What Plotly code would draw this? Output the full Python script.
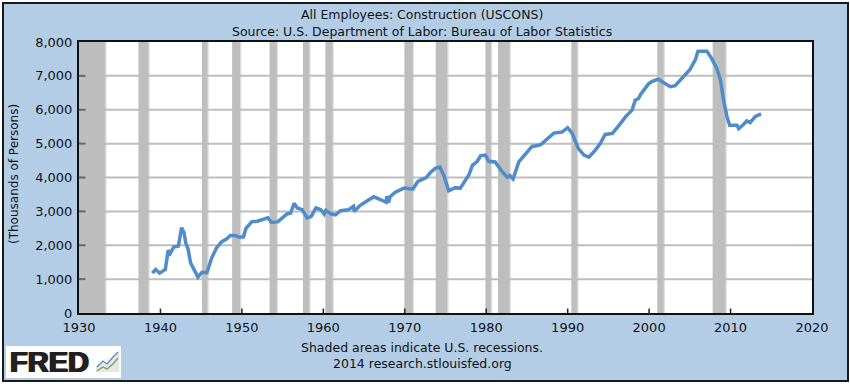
import plotly.graph_objects as go

years = [1939.0,1939.4,1939.9,1940.6,1940.95,1941.2,1941.65,1942.2,1942.6,1942.9,1943.1,1943.4,1943.7,1944.1,1944.6,1945.1,1945.7,1946.3,1946.9,1947.5,1948.1,1948.6,1949.1,1949.7,1950.2,1950.5,1951.2,1951.9,1952.6,1953.2,1953.6,1954.4,1955.5,1956.0,1956.4,1956.8,1957.4,1958.0,1958.5,1959.1,1959.7,1960.1,1960.3,1960.9,1961.5,1962.1,1963.1,1963.7,1963.8,1964.5,1965.3,1966.2,1967.0,1967.7,1967.8,1968.0,1968.2,1968.8,1969.5,1970.0,1971.0,1971.6,1972.0,1972.6,1973.2,1973.8,1974.3,1974.8,1975.4,1976.2,1976.8,1977.5,1977.9,1978.3,1978.9,1979.3,1979.9,1980.3,1981.1,1981.95,1982.6,1982.9,1983.3,1984.0,1984.8,1985.6,1986.7,1987.5,1988.3,1989.3,1990.0,1990.55,1991.3,1992.0,1992.6,1993.4,1994.0,1994.6,1995.5,1996.3,1997.1,1997.9,1998.3,1998.7,1998.95,1999.95,2000.4,2001.1,2002.0,2002.6,2003.2,2004.0,2005.0,2005.7,2006.0,2006.7,2007.1,2007.7,2008.3,2008.75,2009.2,2009.6,2009.9,2010.8,2011.0,2011.6,2012.0,2012.4,2013.05,2013.75]
employees = [1177,1285,1177,1285,1850,1760,1950,1975,2520,2370,2070,1880,1480,1285,1060,1200,1190,1630,1930,2100,2180,2290,2290,2240,2250,2500,2690,2710,2760,2810,2680,2690,2920,2950,3240,3100,3050,2810,2850,3100,3050,2920,3030,2930,2900,3020,3050,3150,3000,3170,3300,3430,3350,3270,3450,3250,3430,3560,3640,3690,3660,3880,3930,3990,4160,4280,4310,4060,3610,3700,3680,3960,4090,4360,4480,4640,4660,4480,4460,4170,4010,4060,3960,4460,4700,4910,4970,5140,5310,5340,5470,5300,4860,4660,4600,4810,5000,5270,5300,5540,5790,5990,6280,6330,6450,6770,6840,6900,6760,6680,6710,6910,7180,7490,7730,7730,7730,7500,7230,6890,6200,5760,5540,5540,5440,5570,5670,5620,5800,5880]

recession_start = [1930.0,1937.3,1945.1,1948.8,1953.4,1957.5,1960.25,1969.95,1973.8,1979.9,1981.45,1990.45,2001.0,2007.8]
recession_end = [1933.25,1938.55,1945.8,1949.8,1954.3,1958.3,1961.15,1971.0,1975.25,1980.6,1982.9,1991.2,2001.8,2009.4]

x_ticks = list(range(1930, 2021, 10))
y_ticks = list(range(0, 8001, 1000))
y_tick_labels = ["0","1,000","2,000","3,000","4,000","5,000","6,000","7,000","8,000"]

title_lines = ["All Employees: Construction (USCONS)", "Source: U.S. Department of Labor: Bureau of Labor Statistics"]
footer_lines = ["Shaded areas indicate U.S. recessions.", "2014 research.stlouisfed.org"]

W, H = 850, 384
L, R, T, B = 79, 812, 42, 313
BG = "#B3CDE6"
FONT = "DejaVu Sans"

def px(x):
    return (x - L) / (R - L)

def py(y):
    return (B - y) / (B - T)

def path(points, close=False):
    return "M " + " L ".join(f"{px(a):.4f},{py(b):.4f}" for a, b in points) + (" Z" if close else "")

shapes = [
    dict(type="rect", xref="paper", yref="paper", x0=px(0.5), x1=px(849.5), y0=py(0.5), y1=py(383.5),
         line=dict(color="white", width=3), fillcolor="rgba(0,0,0,0)", layer="below"),
    dict(type="rect", xref="paper", yref="paper", x0=px(3), x1=px(848), y0=py(3), y1=py(381),
         line=dict(color="#1a1a1a", width=2), fillcolor="rgba(0,0,0,0)", layer="below"),
    dict(type="rect", xref="paper", yref="paper", x0=px(6), x1=px(121), y0=py(346), y1=py(378),
         line=dict(width=0), fillcolor="white", layer="below"),
    dict(type="path", xref="paper", yref="paper",
         path=path([(96,372),(96,366),(103,361),(107,364),(113,356),(119,351),(119,372)], close=True),
         line=dict(width=0), fillcolor="#E4E6E8"),
    dict(type="path", xref="paper", yref="paper",
         path=path([(97,367),(103,361),(107,364),(113,357),(118,352)]),
         line=dict(color="#5B87AE", width=1.2)),
    dict(type="path", xref="paper", yref="paper",
         path=path([(97,371),(103,367),(107,369),(113,364),(118,358)]),
         line=dict(color="#6FA04A", width=1.2)),
]
for s, e in zip(recession_start, recession_end):
    shapes.append(dict(type="rect", xref="x", yref="y", x0=e, x1=e + 0.15, y0=0, y1=8000,
                       line=dict(width=0), fillcolor="#E2E2E2", layer="below"))
    shapes.append(dict(type="rect", xref="x", yref="y", x0=s, x1=e, y0=0, y1=8000,
                       line=dict(width=0), fillcolor="#BEBEBE", layer="below"))

def label(text, x, y, size=12.5, **kw):
    font = dict(family=kw.pop("family", FONT), size=size, color=kw.pop("color", "#111"))
    font.update(kw.pop("font_extra", {}))
    return dict(text=text, xref="paper", yref="paper", x=px(x), y=py(y), showarrow=False,
                xanchor=kw.pop("xanchor", "center"), yanchor="middle", font=font, **kw)

annotations = [
    label(title_lines[0], 422, 14),
    label(title_lines[1], 422, 31),
    label(footer_lines[0], 422, 347),
    label(footer_lines[1], 422, 364),
    label("(Thousands of Persons)", 14, 174, size=12, textangle=-90),
    label("FRED", 49, 362, size=29, family="Liberation Sans", color="#231F20",
          font_extra=dict(weight=700, shadow="1px 0 0 #231F20, -1px 0 0 #231F20")),
]

grid_x, grid_y = [], []
for v in y_ticks[1:-1]:
    grid_x += [1930, 2020, None]
    grid_y += [v, v, None]
ytick_x, ytick_y = [], []
for v in y_ticks[1:-1]:
    ytick_x += [1930, 1930.8, None]
    ytick_y += [v, v, None]
xtick_x, xtick_y = [], []
for v in x_ticks[1:-1]:
    xtick_x += [v, v, None]
    xtick_y += [0, 130, None]

fig = go.Figure()
fig.add_trace(go.Scatter(x=grid_x, y=grid_y, mode="lines", line=dict(color="#BEBEBE", width=2), hoverinfo="skip"))
fig.add_trace(go.Scatter(x=ytick_x, y=ytick_y, mode="lines", line=dict(color="#666666", width=2), hoverinfo="skip"))
fig.add_trace(go.Scatter(x=xtick_x, y=xtick_y, mode="lines", line=dict(color="#222222", width=1.5), hoverinfo="skip"))
fig.add_trace(go.Scatter(x=years, y=employees, mode="lines",
                         line=dict(color="#4F8CC9", width=3.5), hoverinfo="skip"))
fig.update_layout(
    width=W, height=H, autosize=False, showlegend=False,
    margin=dict(l=L, r=W - R, t=T, b=H - B, pad=0),
    paper_bgcolor=BG, plot_bgcolor="white",
    font=dict(family=FONT, size=13, color="#111"),
    shapes=shapes, annotations=annotations,
    xaxis=dict(range=[1930, 2020], tickmode="array", tickvals=x_ticks, ticktext=[str(v) for v in x_ticks],
               ticks="", showgrid=False, zeroline=False,
               showline=True, linecolor="#111", linewidth=2, mirror=True, ticklabelstandoff=1),
    yaxis=dict(range=[0, 8000], tickmode="array", tickvals=y_ticks, ticktext=y_tick_labels, showgrid=False,
               ticks="", zeroline=False,
               showline=True, linecolor="#111", linewidth=2, mirror=True, ticklabelstandoff=2),
)
fig.write_html("out.html", config=dict(displayModeBar=False),
               post_script="document.body.style.margin='0';")
